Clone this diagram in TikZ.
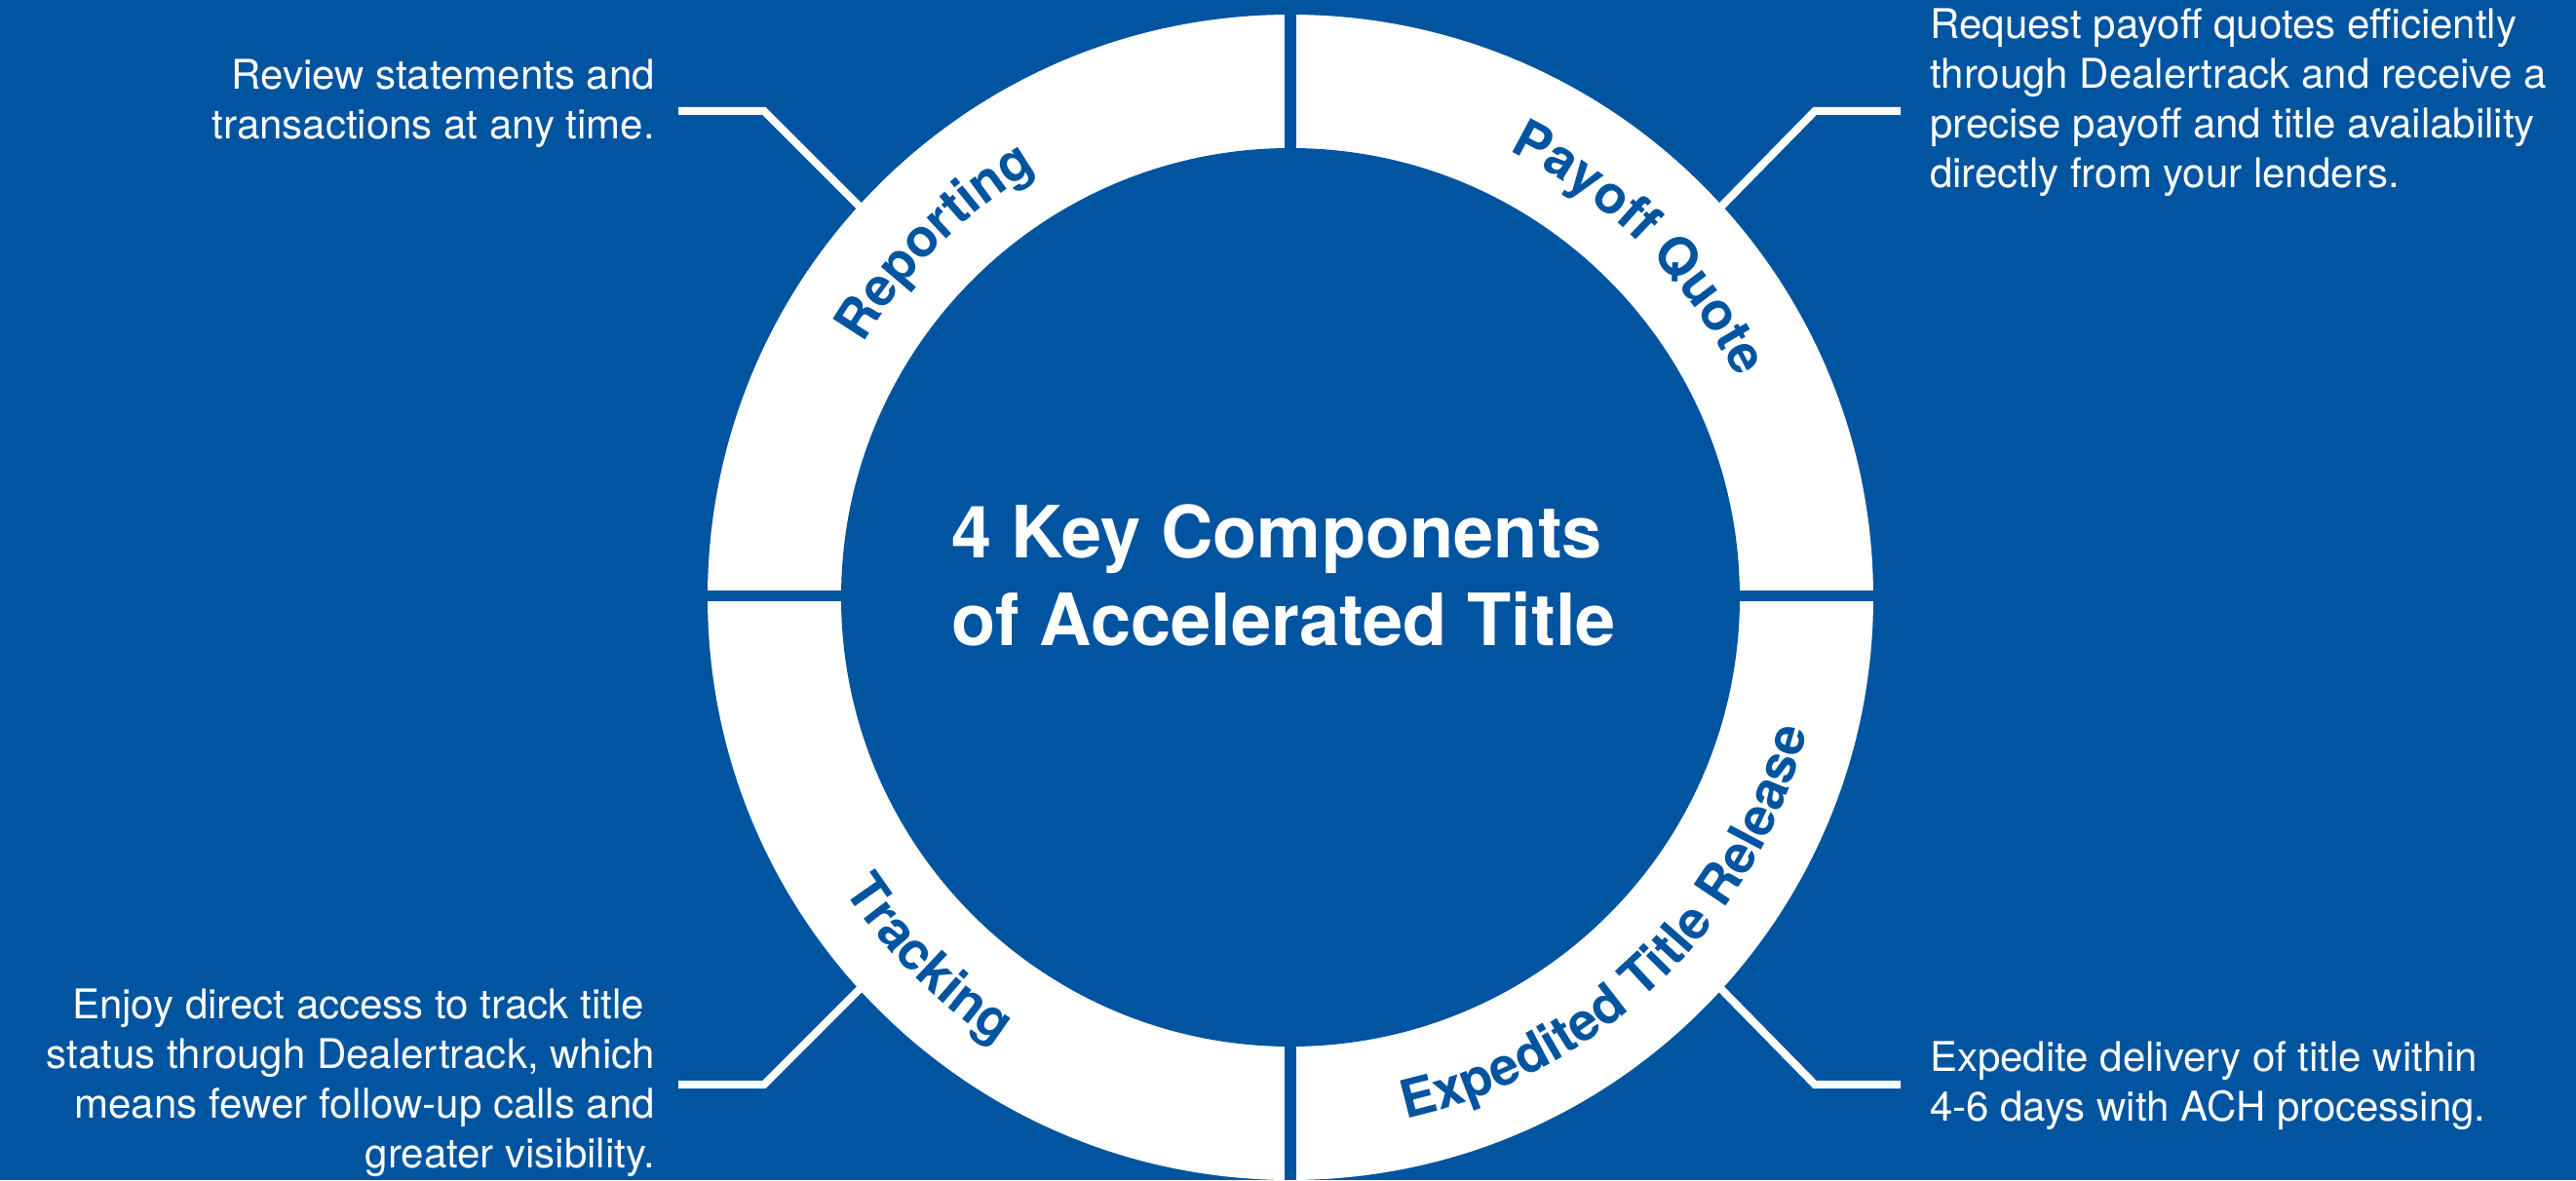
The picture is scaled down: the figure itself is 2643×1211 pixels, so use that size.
\documentclass[tikz,border=0pt]{standalone}
\usepackage{fontspec}
\setmainfont{TeX Gyre Heros}
\usetikzlibrary{decorations.text}
\definecolor{bgblue}{RGB}{0,84,160}
\newcommand{\ringfont}{\fontsize{54}{60}\selectfont\bfseries}
\begin{document}
\begin{tikzpicture}[x=1pt,y=1pt,
  bodytext/.style={text=white, font=\fontsize{42}{51}\selectfont, inner sep=0pt},
  titletext/.style={text=white, font=\fontsize{74}{90}\selectfont\bfseries, inner sep=0pt},
  connector/.style={draw=white, line width=8pt, line join=miter},
  gapband/.style={fill=bgblue}]
\useasboundingbox (0,0) rectangle (2643,1211);
\fill[bgblue] (0,0) rectangle (2643,1211);
\coordinate (C) at (1324,598);
% ring
\fill[white] (C) circle[radius=598];
\fill[bgblue] (C) circle[radius=461];
\fill[gapband] (1318,0) rectangle (1330,1211);
\fill[gapband] (700,594) rectangle (1950,605);
% ring labels
\path[decorate, decoration={text along path, text align=center,
  text={|\ringfont\color{bgblue}|Reporting}}]
  ([shift={(175:510)}]C) arc[start angle=175, end angle=95, radius=510];
\path[decorate, decoration={text along path, text align=center,
  text={|\ringfont\color{bgblue}|Payoff Quote}}]
  ([shift={(95:510)}]C) arc[start angle=95, end angle=-5, radius=510];
\path[decorate, decoration={text along path, text align=center,
  text={|\ringfont\color{bgblue}|Expedited Title Release}}]
  ([shift={(-95:548)}]C) arc[start angle=-95, end angle=3, radius=548];
\path[decorate, decoration={text along path, text align=center,
  text={|\ringfont\color{bgblue}|Tracking}}]
  ([shift={(-175:548)}]C) arc[start angle=-175, end angle=-95, radius=548];
% title (anchored at the baseline of its last line)
\node[titletext, anchor=base west, align=left] (title) at (976,548)
  {4 Key Components\\of Accelerated Title};
% notes (anchored at the baseline of their last line)
\node[bodytext, anchor=base east, align=right] (tlnote) at (672,1068)
  {Review statements and\\transactions at any time.};
\node[bodytext, anchor=base west, align=left] (trnote) at (1980,1018)
  {Request payoff quotes efficiently\\through Dealertrack and receive a\\precise payoff and title availability\\directly from your lenders.};
\node[bodytext, anchor=base east, align=right] (blnote) at (672,13)
  {Enjoy direct access to track title\hspace*{11pt}\\status through Dealertrack, which\hspace*{11pt}\\means fewer follow-up calls and\hspace*{11pt}\\greater visibility.};
\node[bodytext, anchor=base west, align=left] (brnote) at (1980,61)
  {Expedite delivery of title within\\4-6 days with ACH processing.};
% connectors
\coordinate (tlend) at (696,1097);
\coordinate (tlbend) at (784,1097);
\coordinate (tlring) at (885,996);
\coordinate (trend) at (1950,1097);
\coordinate (trbend) at (1862,1097);
\coordinate (trring) at (1763,996);
\coordinate (blend) at (696,98);
\coordinate (blbend) at (784,98);
\coordinate (blring) at (885,199);
\coordinate (brend) at (1950,98);
\coordinate (brbend) at (1862,98);
\coordinate (brring) at (1763,199);
\draw[connector] (tlend) -- (tlbend) -- (tlring);
\draw[connector] (trend) -- (trbend) -- (trring);
\draw[connector] (blend) -- (blbend) -- (blring);
\draw[connector] (brend) -- (brbend) -- (brring);
\end{tikzpicture}
\end{document}
